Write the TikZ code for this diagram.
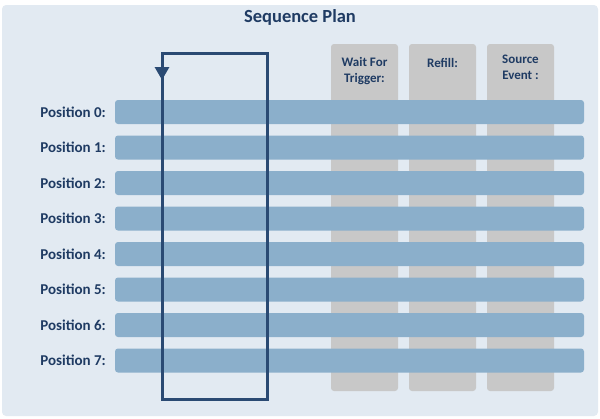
\documentclass[tikz,border=0pt]{standalone}
\usepackage{fontspec}
\setmainfont{Carlito}
\usepackage{xcolor}
\usepackage{tikz}
\usetikzlibrary{positioning, calc, arrows.meta}
\definecolor{panelblue}{HTML}{E2EAF2}
\definecolor{barblue}{HTML}{8BAFCB}
\definecolor{colgray}{HTML}{C8C8C8}
\definecolor{darkblue}{HTML}{1F3B63}
\definecolor{loopblue}{HTML}{2A4A73}

\begin{document}
\begin{tikzpicture}[x=1pt, y=-1pt,
		bar/.style={fill=barblue, rounded corners=3pt},
		col/.style={fill=colgray, rounded corners=3pt},
		poslabel/.style={anchor=east, text=darkblue, inner sep=0pt, font=\bfseries\fontsize{15}{16}\selectfont},
		collabel/.style={text=darkblue, inner sep=0pt, align=center, font=\bfseries\fontsize{13}{16}\selectfont}]
		\useasboundingbox (0,0) rectangle (600,418);
		\fill[panelblue, rounded corners=4pt] (2,5) rectangle (598,416);
		\node[text=darkblue, font=\bfseries\fontsize{18.5}{20}\selectfont] (title) at (300,17) {Sequence Plan};
		
		% columns
		\pgfmathsetmacro{\colw}{67}
		\foreach \cx in {331, 409, 487}
			\fill[col] (\cx,44) rectangle ++(\colw,347);
		\node[collabel] (wait) at (364.5,71) {Wait For\\Trigger:};
		\node[collabel] (refill) at (442.5,63) {Refill:};
		\node[collabel] (source) at (520.5,67) {Source\\Event :};
		
		% positions
		\foreach \i in {0,...,7} {
			\pgfmathsetmacro{\ypos}{112+35.5*\i}
			\fill[bar] (115,\ypos-12) rectangle (584,\ypos+12);
			\node[poslabel] (pos\i) at (106,\ypos) {Position \i:};
		}
		
		% loop
		\coordinate (lt) at (162,53);
		\coordinate (rt) at (267,53);
		\coordinate (rb) at (267,399);
		\coordinate (lb) at (162,399);
		\draw[loopblue, line width=3pt] (lb) -- (rb) -- (rt) -- (lt) -- cycle;
		\draw[loopblue, line width=3pt, -{Triangle[width=14pt,length=13pt]}] (lt) -- ($(lt)+(0,27)$);
\end{tikzpicture}
\end{document}
